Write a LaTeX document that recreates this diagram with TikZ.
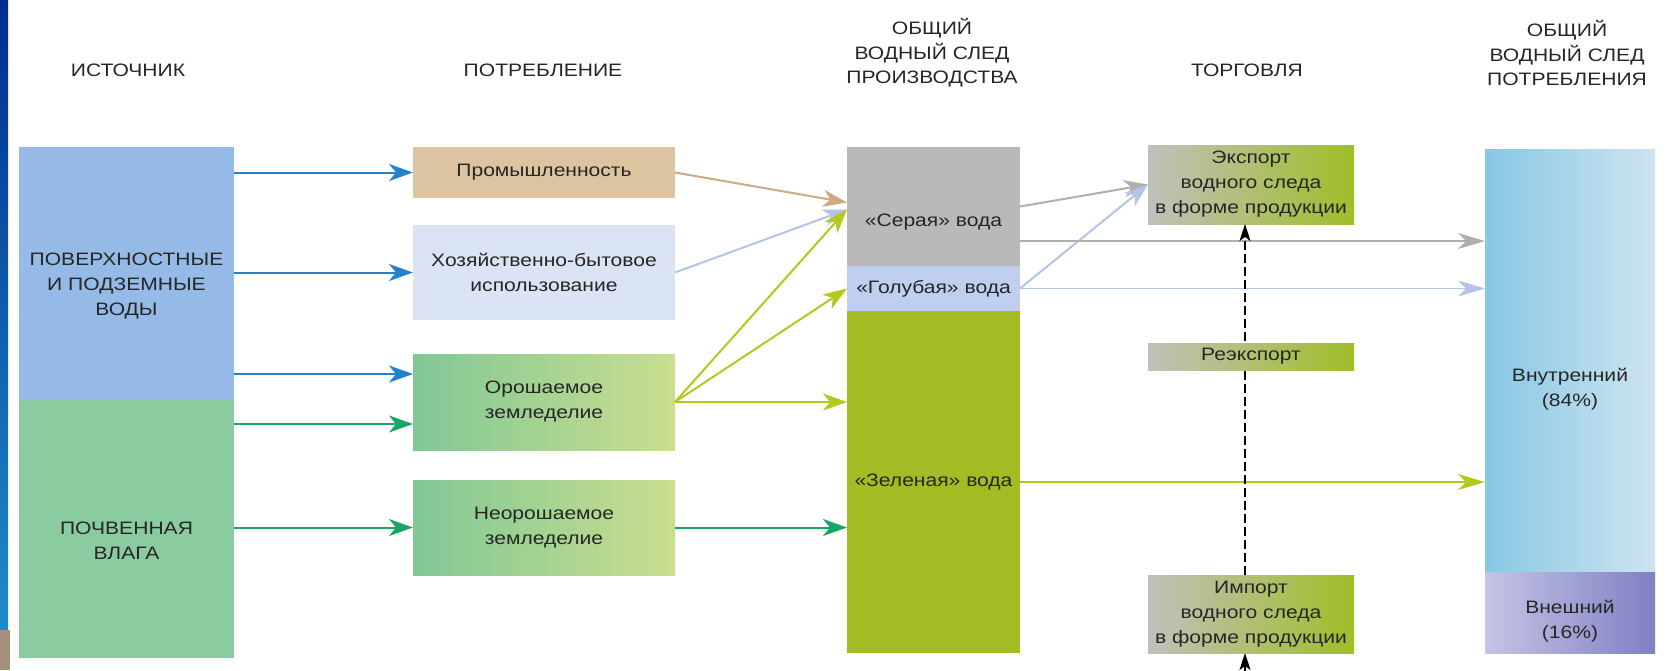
\documentclass[tikz,border=0pt]{standalone}
\usepackage{fontspec}
\setmainfont{Liberation Sans}[FakeStretch=1.17]
\usetikzlibrary{arrows.meta,positioning}
\definecolor{SrcBlue}{RGB}{150,186,232}
\definecolor{SrcGreen}{RGB}{138,204,160}
\definecolor{IndTan}{RGB}{221,196,160}
\definecolor{HhBlue}{RGB}{218,228,244}
\definecolor{FarmL}{RGB}{128,200,150}
\definecolor{FarmR}{RGB}{202,222,142}
\definecolor{ProdGrey}{RGB}{185,185,185}
\definecolor{ProdBlue}{RGB}{192,206,240}
\definecolor{ProdGreen}{RGB}{164,188,36}
\definecolor{TradeL}{RGB}{192,192,188}
\definecolor{TradeR}{RGB}{160,190,40}
\definecolor{InnerL}{RGB}{135,200,228}
\definecolor{InnerR}{RGB}{206,228,240}
\definecolor{OuterL}{RGB}{196,196,230}
\definecolor{OuterR}{RGB}{128,128,196}
\definecolor{ArrBlue}{RGB}{35,130,205}
\definecolor{ArrGreen}{RGB}{25,165,100}
\definecolor{ArrTan}{RGB}{205,170,130}
\definecolor{ArrLight}{RGB}{180,196,232}
\definecolor{ArrYellow}{RGB}{180,200,30}
\definecolor{ArrGrey}{RGB}{175,175,175}
\definecolor{SlideTop}{RGB}{0,45,145}
\definecolor{SlideBot}{RGB}{30,140,200}
\tikzset{
	>={Stealth[length=24pt,width=17pt,inset=7pt]},
	header/.style={text=black!85, font=\fontsize{18}{24.5}\selectfont, align=center},
	boxtext/.style={text=black!85, font=\fontsize{18}{25}\selectfont, align=center},
	block/.style={inner sep=0pt, outer sep=0pt, draw=none},
	useblock/.style={block, minimum width=262pt, minimum height=#1},
	prodblock/.style={block, minimum width=173pt, minimum height=#1},
	tradeblock/.style={block, minimum width=206pt, minimum height=#1, left color=TradeL, right color=TradeR},
	flow/.style={line width=2pt, ->},
	thinflow/.style={line width=1.4pt, -{Stealth[length=27pt,width=16pt,inset=8pt]}},
	tradeflow/.style={black, line width=1.4pt, -{Stealth[length=17pt,width=11pt,inset=4pt]}}
}

\begin{document}
\begin{tikzpicture}[x=1pt, y=-1pt, line cap=butt]
	\useasboundingbox (0,0) rectangle (1671,670);
	
	% Slide edge on the left
	\shade[top color=SlideTop, bottom color=SlideBot] (0,0) rectangle (8,630);
	\fill[black!45!brown!60] (0,630) rectangle (10,670);
	
	% Column headers
	\node[header] (hsrc) at (128,70) {ИСТОЧНИК};
	\node[header] (huse) at (543,70) {ПОТРЕБЛЕНИЕ};
	\node[header] (hprod) at (932,53) {ОБЩИЙ\\ВОДНЫЙ СЛЕД\\ПРОИЗВОДСТВА};
	\node[header] (htrade) at (1247,70) {ТОРГОВЛЯ};
	\node[header] (hcons) at (1567,53) {ОБЩИЙ\\ВОДНЫЙ СЛЕД\\ПОТРЕБЛЕНИЯ};
	
	% Sources
	\node[block, fill=SrcBlue, minimum width=215pt, minimum height=253pt] (surf) at (126.5,273.5) {};
	\node[block, fill=SrcGreen, minimum width=215pt, minimum height=258pt, below=0pt of surf] (soil) {};
	\node[boxtext] (surftxt) at (126.5,286) {ПОВЕРХНОСТНЫЕ\\И ПОДЗЕМНЫЕ\\ВОДЫ};
	\node[boxtext] (soiltxt) at (126.5,541) {ПОЧВЕННАЯ\\ВЛАГА};
	
	% Uses
	\node[useblock=51pt, fill=IndTan, boxtext] (ind) at (544,172.5) {Промышленность};
	\node[useblock=95pt, fill=HhBlue, boxtext] (hh) at (544,272.5) {Хозяйственно-бытовое\\использование};
	\node[useblock=96pt, left color=FarmL, right color=FarmR, boxtext] (irr) at (544,402) {Орошаемое\\земледелие};
	\node[useblock=95pt, left color=FarmL, right color=FarmR, boxtext] (rain) at (544,527.5) {Неорошаемое\\земледелие};
	
	% Production footprint
	\node[prodblock=119pt, fill=ProdGrey] (grey) at (933.5,206.5) {};
	\node[prodblock=45pt, fill=ProdBlue, boxtext, below=0pt of grey] (blue) {«Голубая» вода};
	\node[prodblock=342pt, fill=ProdGreen, boxtext, below=0pt of blue] (green) {«Зеленая» вода};
	\node[boxtext] (greytxt) at (933.5,222) {«Серая» вода};
	
	% Trade
	\node[tradeblock=79pt, boxtext] (exp) at (1251,184.5) {Экспорт\\водного следа\\в форме продукции};
	\node[tradeblock=78pt, boxtext] (imp) at (1251,614) {Импорт\\водного следа\\в форме продукции};
	
	% Consumption footprint
	\node[block, minimum width=170pt, minimum height=423pt, left color=InnerL, right color=InnerR] (inner) at (1570,360.5) {};
	\node[block, minimum width=170pt, minimum height=81pt, left color=OuterL, right color=OuterR, below=0pt of inner] (outer) {};
	\node[boxtext] (innertxt) at (1570,389) {Внутренний\\(84\%)};
	\node[boxtext] (outertxt) at (1570,621) {Внешний\\(16\%)};
	
	% Source to use
	\coordinate (irrA) at ([yshift=28pt]irr.west);
	\coordinate (irrB) at ([yshift=-22pt]irr.west);
	\draw[flow, ArrBlue] (surf.east |- ind.west) -- (ind.west);
	\draw[flow, ArrBlue] (surf.east |- hh.west) -- (hh.west);
	\draw[flow, ArrBlue] (surf.east |- irrA) -- (irrA);
	\draw[flow, ArrGreen] (soil.east |- irrB) -- (irrB);
	\draw[flow, ArrGreen] (soil.east |- rain.west) -- (rain.west);
	
	% Use to production
	\draw[flow, ArrTan] (ind.east) -- ([yshift=4pt]grey.west);
	\draw[flow, ArrLight] (hh.east) -- ([yshift=-3pt]grey.west);
	\draw[flow, ArrYellow] (irr.east) -- ([yshift=-3pt]grey.west);
	\draw[flow, ArrYellow] (irr.east) -- (blue.west);
	\draw[flow, ArrYellow] (irr.east) -- (green.west |- irr.east);
	\draw[flow, ArrGreen] (rain.east) -- (green.west |- rain.east);
	
	% Production to trade and consumption
	\coordinate (greyout) at ([yshift=-34.5pt]grey.east);
	\draw[flow, ArrGrey] (grey.east) -- (exp.west);
	\draw[flow, ArrLight] (blue.east) -- (exp.west);
	\draw[thinflow, ArrGrey] (greyout) -- (inner.west |- greyout);
	\draw[thinflow, ArrLight] (blue.east) -- (inner.west |- blue.east);
	\draw[thinflow, ArrYellow] (green.east) -- (inner.west |- green.east);
	
	% Re-export path
	\coordinate (impin) at ([xshift=-6pt]imp.south |- 0,672);
	\draw[tradeflow, dashed, dash pattern=on 9pt off 4pt] ([xshift=-6pt]imp.north) -- ([xshift=-6pt]exp.south);
	\draw[tradeflow] (impin) -- ([xshift=-6pt]imp.south);
	\node[tradeblock=27pt, boxtext] (rex) at (1251,356.5) {Реэкспорт};
\end{tikzpicture}
\end{document}
